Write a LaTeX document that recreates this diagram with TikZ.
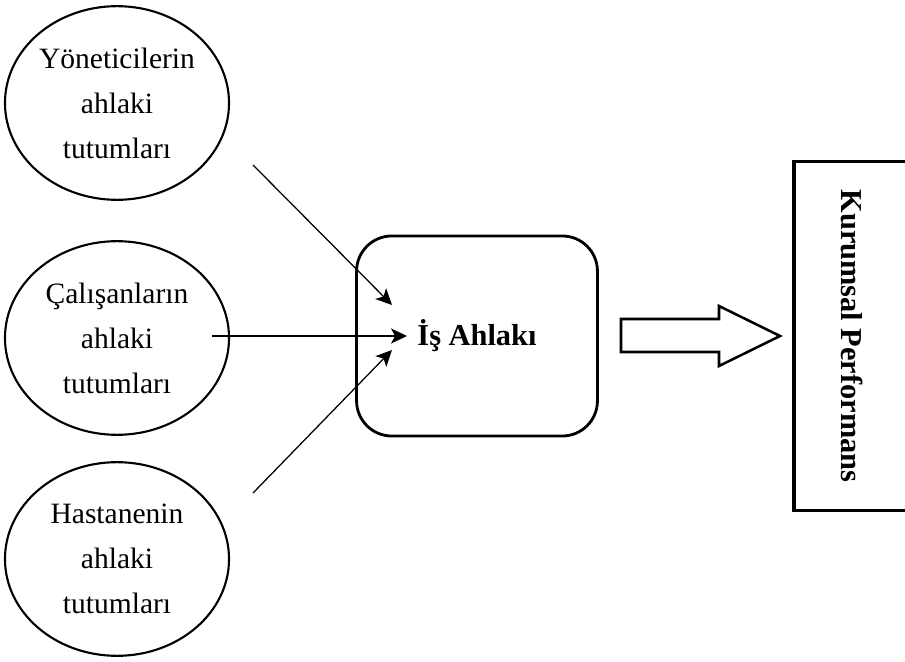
\documentclass[tikz,border=0pt]{standalone}
\usepackage{fontspec}
\setmainfont{Liberation Serif}
\usetikzlibrary{positioning}
\usetikzlibrary{arrows.meta}
\usetikzlibrary{shapes.geometric}

\begin{document}
\begin{tikzpicture}[x=0.0125cm, y=-0.0125cm, every node/.style={font=\fontsize{10.5}{16}\selectfont},
    oval/.style={draw, ellipse, line width=0.75pt, inner sep=0pt, align=center, minimum width=2.8cm, minimum height=2.42cm},
    okucu/.style={-{Stealth[length=2mm, width=1.9mm, inset=0.5mm]}, line width=0.45pt}]
    \useasboundingbox (0,0) rectangle (905,662);
    \foreach \n/\y/\w in {yonetici/103/Yöneticilerin, calisan/338/Çalışanların, hastane/559/Hastanenin} {
        \node[oval] (\n) at (117, \y) {\w\\ahlaki\\tutumları};
    }
    \node[draw, rounded corners=0.44cm, line width=1pt, minimum width=3.01cm, minimum height=2.5cm, font=\fontsize{10.8}{16}\selectfont] (ahlak) at (477, 336) {\textbf{İş Ahlakı}};
    \node[draw, line width=1.1pt, rotate=-90, minimum width=4.36cm, minimum height=1.45cm, font=\fontsize{10.8}{16}\selectfont] (perf) at (852, 336) {\textbf{Kurumsal Performans}};
    % incoming arrows
    \foreach \i/\sx/\sy/\tx/\ty in {1/253/165/392/305, 2/212/336/407/336, 3/253/493/392/350} {
        \coordinate (bas\i) at (\sx, \sy);
        \coordinate (uc\i) at (\tx, \ty);
        \draw[okucu] (bas\i) -- (uc\i);
    }
    % block arrow
    \draw[line width=0.9pt] (621, 319) -- (719, 319) -- (719, 306) -- (780, 336) -- (719, 366) -- (719, 352) -- (621, 352) -- cycle;
\end{tikzpicture}
\end{document}
